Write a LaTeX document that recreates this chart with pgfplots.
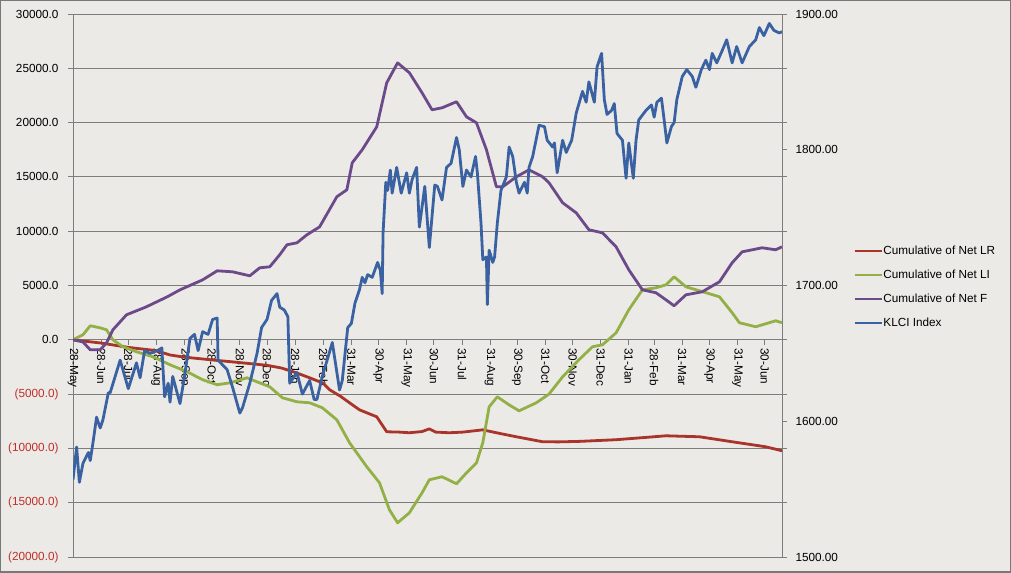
\documentclass[border=0pt]{standalone}
\usepackage{pgfplots}
\pgfplotsset{compat=1.18}
\usepackage{fontspec}
\setmainfont{Liberation Sans}
\definecolor{bgc}{RGB}{236,234,231}
\definecolor{framec}{RGB}{120,120,120}
\definecolor{gridc}{RGB}{125,125,125}
\definecolor{negc}{RGB}{192,48,40}
\definecolor{cLR}{RGB}{168,52,42}
\definecolor{cLI}{RGB}{146,176,70}
\definecolor{cF}{RGB}{108,74,138}
\definecolor{cK}{RGB}{58,98,162}
\pgfplotsset{
  myaxis/.style={
    at={(73bp,16bp)}, anchor=south west, scale only axis,
    width=709bp, height=543bp, xmin=0, xmax=782,
    tick align=outside, major tick length=5bp, minor tick length=5bp,
    axis line style={color=gridc, line width=0.9bp},
    every tick/.style={color=gridc, line width=0.9bp},
    every tick label/.append style={font=\fontsize{11.8}{13}\selectfont},
  },
  serie/.style={line width=2.8bp, line join=round, #1},
}
\begin{document}
\begin{tikzpicture}[x=1bp,y=1bp]
\useasboundingbox (0,0) rectangle (1011,573);
\fill[bgc] (0,0) rectangle (1011,573);
\draw[framec, line width=1.5bp] (0.75,0.75) rectangle (1010.25,572.25);
\begin{axis}[myaxis,
  ymin=-20000, ymax=30000,
  axis x line*=middle, axis y line*=left,
  hide obscured x ticks=false, hide obscured y ticks=false,
  ymajorgrids, grid style={color=gridc, line width=0.9bp},
  ytick={-20000,-15000,-10000,-5000,0,5000,10000,15000,20000,25000,30000},
  yticklabels={\textcolor{negc}{(20000.0)},\textcolor{negc}{(15000.0)},\textcolor{negc}{(10000.0)},\textcolor{negc}{(5000.0)},0.0,5000.0,10000.0,15000.0,20000.0,25000.0,30000.0},
  y tick label style={xshift=-6bp},
  xtick={0,31,61,92,123,153,184,214,245,276,307,337,368,398,429,460,490,521,551,582,613,641,672,702,733,763},
  xticklabels={28-May,28-Jun,28-Jul,28-Aug,28-Sep,28-Oct,28-Nov,28-Dec,28-Jan,28-Feb,31-Mar,30-Apr,31-May,30-Jun,31-Jul,31-Aug,30-Sep,31-Oct,30-Nov,31-Dec,31-Jan,28-Feb,31-Mar,30-Apr,31-May,30-Jun},
  x tick label style={rotate=-90, anchor=west},
]
\addplot[serie=cLR] coordinates {(0,0) (10,-100) (31,-300) (61,-700) (92,-1000) (107,-1400) (123,-1600) (153,-1850) (184,-2100) (214,-2350) (230,-2600) (245,-3000) (261,-3500) (276,-4000) (283,-4600) (295,-5200) (305,-5800) (316,-6450) (335,-7090) (346,-8470) (360,-8500) (371,-8560) (385,-8450) (393,-8200) (400,-8500) (415,-8560) (430,-8500) (452,-8290) (467,-8560) (489,-8930) (518,-9390) (536,-9400) (560,-9350) (599,-9200) (630,-9000) (654,-8840) (691,-8930) (727,-9390) (764,-9850) (782,-10220)};
\addplot[serie=cLI] coordinates {(0,0) (11,460) (19,1290) (30,1100) (37,920) (44,0) (55,-640) (70,-1100) (88,-1560) (107,-2300) (126,-2950) (143,-3680) (159,-4140) (173,-3960) (192,-3500) (203,-3870) (217,-4330) (231,-5340) (247,-5710) (261,-5800) (275,-6260) (291,-7370) (305,-9480) (324,-11690) (338,-13160) (349,-15650) (358,-16850) (371,-15930) (385,-14090) (393,-12890) (407,-12610) (423,-13260) (434,-12250) (445,-11330) (452,-9480) (459,-6170) (468,-5250) (481,-5990) (492,-6540) (511,-5800) (525,-5000) (540,-3410) (558,-1840) (573,-640) (584,-460) (599,640) (613,2760) (628,4600) (643,4790) (654,5060) (663,5800) (676,4880) (691,4510) (713,3960) (727,2490) (735,1570) (753,1200) (775,1750) (782,1570)};
\addplot[serie=cF] coordinates {(0,0) (11,-200) (19,-920) (30,-920) (37,-280) (44,920) (59,2300) (81,3040) (104,3960) (118,4600) (143,5520) (159,6350) (176,6260) (195,5890) (206,6630) (217,6720) (228,7830) (236,8750) (247,8930) (258,9670) (272,10400) (291,13170) (302,13810) (308,16300) (319,17500) (335,19610) (346,23660) (358,25500) (371,24590) (385,22740) (396,21180) (407,21360) (423,21920) (434,20530) (445,19980) (456,17500) (467,14090) (474,14090) (489,15010) (503,15650) (518,15010) (525,14460) (540,12620) (555,11690) (569,10130) (584,9850) (599,8560) (613,6450) (628,4600) (643,4330) (654,3680) (663,3130) (676,4140) (694,4420) (713,5340) (727,7090) (738,8100) (760,8470) (775,8290) (782,8560)};
\end{axis}
\begin{axis}[myaxis,
  ymin=1500, ymax=1900,
  axis y line*=right, axis x line=none, xtick=\empty,
  ytick={1500,1600,1700,1800,1900},
  yticklabels={1500.00,1600.00,1700.00,1800.00,1900.00},
  y tick label style={xshift=5bp},
  minor ytick={1540,1580,1620,1660,1740,1780,1820,1860},
  legend cell align=left,
  legend style={at={(axis description cs:1.1,0.574)}, anchor=north west, draw=none, fill=none,
    font=\fontsize{11.8}{13}\selectfont, inner sep=0pt, row sep=13bp,
    nodes={inner sep=0.5bp}},
  legend image code/.code={\draw[#1, line width=2.8bp] (0bp,0bp) -- (27bp,0bp);},
]
\addlegendimage{cLR}\addlegendentry{Cumulative of Net LR}
\addlegendimage{cLI}\addlegendentry{Cumulative of Net LI}
\addlegendimage{cF}\addlegendentry{Cumulative of Net F}
\addplot[serie=cK] coordinates {(0,1557) (4,1581) (7,1555) (11,1569) (17,1577) (19,1571) (22,1584) (26,1603) (30,1595) (33,1601) (39,1621) (41,1621) (52,1645) (61,1624) (70,1643) (74,1632) (79,1652) (85,1650) (93,1652) (98,1654) (101,1618) (105,1628) (107,1614) (110,1633) (118,1613) (123,1633) (129,1661) (134,1664) (138,1652) (143,1666) (149,1664) (154,1675) (159,1676) (160,1645) (170,1638) (176,1625) (184,1606) (187,1610) (195,1628) (203,1650) (208,1669) (214,1675) (219,1689) (225,1694) (228,1684) (233,1682) (237,1677) (239,1628) (247,1636) (253,1620) (261,1630) (266,1616) (269,1616) (275,1633) (286,1658) (294,1623) (297,1630) (303,1669) (307,1672) (311,1687) (316,1697) (319,1706) (322,1702) (325,1708) (330,1706) (336,1717) (339,1711) (341,1694) (342,1739) (345,1776) (347,1770) (350,1785) (352,1768) (357,1787) (362,1768) (368,1783) (371,1768) (374,1778) (379,1787) (382,1743) (388,1773) (393,1728) (399,1774) (402,1773) (407,1763) (412,1787) (417,1790) (423,1809) (426,1800) (430,1773) (434,1785) (439,1780) (444,1795) (446,1783) (450,1746) (452,1719) (456,1721) (457,1686) (459,1726) (463,1717) (465,1721) (468,1746) (472,1770) (478,1780) (481,1802) (485,1795) (489,1776) (492,1768) (498,1776) (501,1768) (503,1787) (507,1795) (514,1818) (520,1817) (523,1807) (529,1802) (531,1805) (534,1783) (540,1807) (544,1798) (550,1807) (555,1827) (562,1843) (566,1835) (569,1850) (575,1835) (578,1861) (583,1871) (586,1837) (589,1826) (594,1829) (597,1834) (600,1812) (606,1807) (610,1779) (613,1805) (618,1779) (621,1807) (624,1822) (632,1829) (638,1833) (641,1824) (644,1835) (649,1838) (652,1822) (655,1805) (660,1817) (663,1820) (666,1837) (672,1854) (677,1859) (683,1854) (687,1846) (693,1859) (698,1866) (702,1859) (705,1871) (710,1864) (716,1873) (721,1881) (727,1864) (732,1876) (738,1864) (746,1876) (753,1881) (757,1890) (762,1884) (768,1893) (773,1888) (779,1886) (782,1887)};
\addlegendentry{KLCI Index}
\end{axis}
\end{tikzpicture}
\end{document}
